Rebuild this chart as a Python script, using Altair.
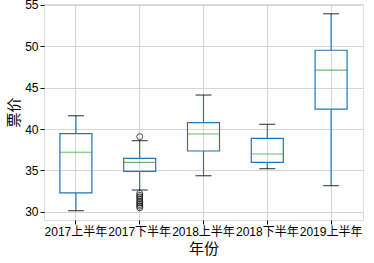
import altair as alt
import pandas as pd

categories = ["2017上半年", "2017下半年", "2018上半年", "2018下半年", "2019上半年"]
whisker_low = [30.15, 32.65, 34.37, 35.22, 33.17]
q1 = [32.3, 34.9, 37.35, 35.99, 42.4]
median = [37.2, 35.99, 39.4, 36.99, 47.1]
q3 = [39.44, 36.47, 40.77, 38.88, 49.5]
whisker_high = [41.6, 38.6, 44.1, 40.57, 53.9]

outlier_cat = ["2017下半年"] * 10
outlier_val = [39.08, 32.25, 32.0, 31.8, 31.55, 31.3, 31.1, 30.9, 30.7, 30.5]

box = pd.DataFrame({
    "cat": categories, "lo": whisker_low, "q1": q1, "med": median,
    "q3": q3, "hi": whisker_high,
})
out = pd.DataFrame({"cat": outlier_cat, "v": outlier_val})

FONT = "Liberation Sans, Noto Sans CJK SC"
TFONT = "Noto Sans CJK SC"
BLUE = "#1f77b4"
GRID = "#cccccc"

x = alt.X("cat:N", sort=categories,
          scale=alt.Scale(domain=categories, paddingInner=0, paddingOuter=0),
          axis=alt.Axis(title="年份", grid=True, bandPosition=0.5, labelAngle=0,
                        labelFontSize=12, labelFont=FONT, labelColor="#000",
                        titleFontSize=15, titleFont=TFONT, titleColor="#000",
                        titleFontWeight="normal", titlePadding=4,
                        tickColor="#000", tickSize=4, labelPadding=2,
                        labelOverlap=False, domain=False,
                        gridColor=GRID, gridWidth=0.8))
yscale = alt.Scale(domain=[29.03, 55.08], nice=False, zero=False)
yaxis = alt.Axis(title="票价", values=[30, 35, 40, 45, 50, 55], grid=True,
                 labelFontSize=12, labelFont=FONT, labelColor="#000",
                 titleFontSize=15, titleFont=TFONT, titleColor="#000",
                 titleFontWeight="normal", titlePadding=3,
                 tickColor="#000", tickSize=4, labelPadding=2, domain=False,
                 gridColor=GRID, gridWidth=0.8)

base = alt.Chart(box)

whisk_low = base.mark_rule(color=BLUE, strokeWidth=1.2).encode(
    x=x, y=alt.Y("lo:Q", scale=yscale, axis=yaxis), y2="q1:Q")
whisk_high = base.mark_rule(color=BLUE, strokeWidth=1.2).encode(
    x=x, y=alt.Y("q3:Q", scale=yscale), y2="hi:Q")
boxes = base.mark_bar(size=32, fill="white", fillOpacity=0, stroke=BLUE,
                      strokeWidth=1.2).encode(
    x=x, y=alt.Y("q1:Q", scale=yscale), y2="q3:Q")
meds = base.mark_tick(orient="horizontal", size=32, thickness=1.2,
                      color="#2ca02c").encode(
    x=x, y=alt.Y("med:Q", scale=yscale))
cap_lo = base.mark_tick(orient="horizontal", size=16, thickness=1.2,
                        color="#000").encode(x=x, y=alt.Y("lo:Q", scale=yscale))
cap_hi = base.mark_tick(orient="horizontal", size=16, thickness=1.2,
                        color="#000").encode(x=x, y=alt.Y("hi:Q", scale=yscale))
outs = alt.Chart(out).mark_point(shape="circle", size=36, filled=False,
                                 color="#000", strokeWidth=1).encode(
    x=alt.X("cat:N", sort=categories), y=alt.Y("v:Q", scale=yscale))

chart = alt.layer(whisk_low, whisk_high, boxes, meds, cap_lo, cap_hi, outs).properties(
    width=319, height=216, autosize="none",
    padding={"left": 44, "top": 4, "right": 11, "bottom": 43},
).configure_view(stroke="#222", strokeWidth=1.2).configure(background="white")

chart.save("out.html", embed_options={"renderer": "svg", "actions": False})
